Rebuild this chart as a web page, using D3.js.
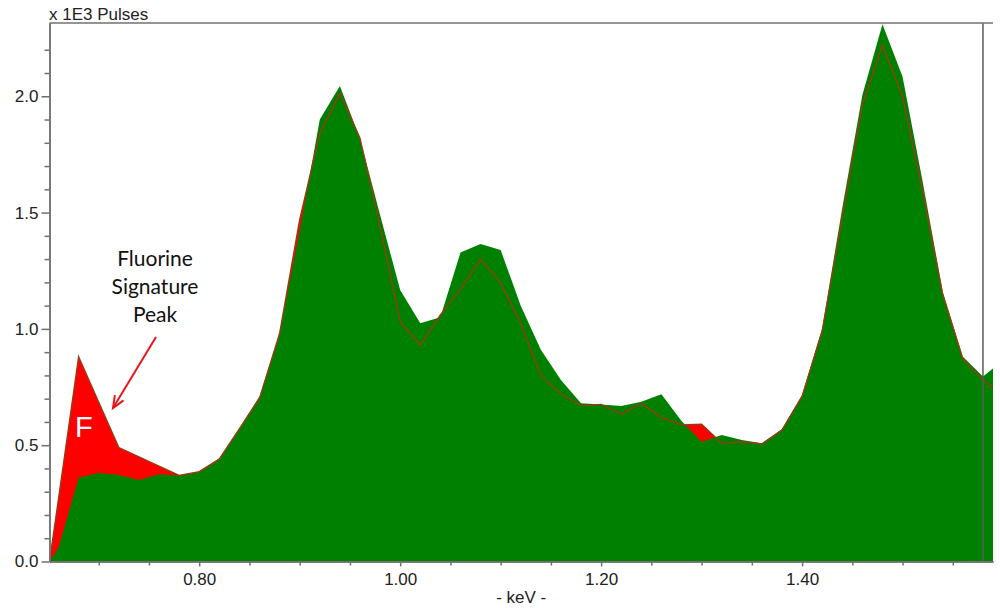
<!DOCTYPE html>
<html lang="en">
<head>
  <meta charset="UTF-8">
  <title>EDS spectrum - Fluorine peak</title>
  <script src="https://d3js.org/d3.v7.min.js"></script>
  <style>
    body {
      margin: 0;
      background: #fff;
      font-family: "Liberation Sans", Arial, sans-serif;
    }
    .axis path, .axis line {
      stroke: #707070;
      stroke-width: 1.5;
    }
    .axis text {
      font-family: "Liberation Sans", Arial, sans-serif;
      font-size: 17px;
      fill: #222;
    }
  </style>
</head>
<body>
  <div id="chart"></div>

  <script>
    // energy channels (keV)
    const energy = [0.651, 0.66, 0.68, 0.70, 0.72, 0.74, 0.76, 0.78, 0.80, 0.82, 0.84, 0.86, 0.88,
      0.90, 0.92, 0.94, 0.96, 0.98, 1.00, 1.02, 1.04, 1.06, 1.08, 1.10, 1.12, 1.14, 1.16,
      1.18, 1.20, 1.22, 1.24, 1.26, 1.28, 1.30, 1.32, 1.34, 1.36, 1.38, 1.40, 1.42, 1.44,
      1.46, 1.48, 1.50, 1.52, 1.54, 1.56, 1.58, 1.59];

    // green spectrum (x 1E3 pulses)
    const greenCounts = [0, 0.06, 0.36, 0.38, 0.372, 0.35, 0.375, 0.37, 0.386, 0.444, 0.574, 0.71, 0.98,
      1.42, 1.90, 2.044, 1.82, 1.49, 1.167, 1.024, 1.05, 1.328, 1.365, 1.339, 1.10, 0.91, 0.78,
      0.68, 0.675, 0.668, 0.687, 0.719, 0.604, 0.515, 0.544, 0.522, 0.508, 0.57, 0.716, 1.003, 1.52,
      2.006, 2.31, 2.084, 1.633, 1.16, 0.88, 0.795, 0.83];

    // red spectrum with the fluorine peak (x 1E3 pulses)
    const redCounts = [0, 0.27, 0.88, 0.685, 0.49, 0.45, 0.41, 0.37, 0.386, 0.44, 0.57, 0.70, 0.98,
      1.47, 1.84, 2.013, 1.82, 1.44, 1.03, 0.93, 1.06, 1.17, 1.30, 1.196, 1.024, 0.80, 0.72,
      0.67, 0.675, 0.634, 0.68, 0.62, 0.587, 0.59, 0.508, 0.515, 0.505, 0.565, 0.71, 0.99, 1.48,
      1.963, 2.22, 1.998, 1.59, 1.146, 0.87, 0.78, 0.746];

    const xMajorTicks = [0.80, 1.00, 1.20, 1.40];
    const xMinorTicks = [0.70, 0.75, 0.85, 0.90, 0.95, 1.05, 1.10, 1.15, 1.25, 1.30, 1.35, 1.45, 1.50, 1.55];
    const yMajorTicks = [0.0, 0.5, 1.0, 1.5, 2.0];
    const yMinorTicks = [0.1, 0.2, 0.3, 0.4, 0.6, 0.7, 0.8, 0.9, 1.1, 1.2, 1.3, 1.4, 1.6, 1.7, 1.8, 1.9, 2.1, 2.2];
    const markerEnergy = 1.58;
    const noteLines = ["Fluorine", "Signature", "Peak"];

    const width = 1000;
    const height = 608;

    const svg = d3.select("#chart")
      .append("svg")
      .attr("width", width)
      .attr("height", height);

    const x = d3.scaleLinear()
      .domain([0.651, 1.59])
      .range([49.5, 993]);

    const y = d3.scaleLinear()
      .domain([0, 2.315])
      .range([561.5, 23]);

    const area = d3.area()
      .x(d => x(d.e))
      .y0(y(0))
      .y1(d => y(d.v));

    const line = d3.line()
      .x(d => x(d.e))
      .y(d => y(d.v));

    const redData = energy.map((e, i) => ({e: e, v: redCounts[i]}));
    const greenData = energy.map((e, i) => ({e: e, v: greenCounts[i]}));

    // red underneath, green on top, then the red trace over everything
    svg.append("path")
      .datum(redData)
      .attr("fill", "#ff0000")
      .attr("d", area);

    svg.append("path")
      .datum(greenData)
      .attr("fill", "#008000")
      .attr("d", area);

    svg.append("path")
      .datum(redData)
      .attr("fill", "none")
      .attr("stroke", "#9a3a14")
      .attr("stroke-width", 1.4)
      .attr("d", line);

    // marker line near the right edge
    svg.append("line")
      .attr("x1", x(markerEnergy)).attr("x2", x(markerEnergy))
      .attr("y1", y.range()[1]).attr("y2", y(0))
      .attr("stroke", "#5a5a5a")
      .attr("stroke-width", 1.5);

    // top frame line
    svg.append("line")
      .attr("x1", x.range()[0]).attr("x2", x.range()[1])
      .attr("y1", y.range()[1]).attr("y2", y.range()[1])
      .attr("stroke", "#707070")
      .attr("stroke-width", 1.5);

    // x axis
    svg.append("g")
      .attr("class", "axis")
      .attr("transform", `translate(0,${y(0)})`)
      .call(d3.axisBottom(x).tickValues(xMinorTicks).tickSize(4).tickSizeOuter(0).tickFormat(""));

    svg.append("g")
      .attr("class", "axis")
      .attr("transform", `translate(0,${y(0)})`)
      .call(d3.axisBottom(x).tickValues(xMajorTicks).tickSize(5).tickSizeOuter(0).tickPadding(6).tickFormat(d3.format(".2f")));

    // y axis
    svg.append("g")
      .attr("class", "axis")
      .attr("transform", `translate(${x.range()[0]},0)`)
      .call(d3.axisLeft(y).tickValues(yMinorTicks).tickSize(5).tickSizeOuter(0).tickFormat(""));

    svg.append("g")
      .attr("class", "axis")
      .attr("transform", `translate(${x.range()[0]},0)`)
      .call(d3.axisLeft(y).tickValues(yMajorTicks).tickSize(8).tickSizeOuter(0).tickPadding(3).tickFormat(d3.format(".1f")));

    // axis titles
    svg.append("text")
      .attr("x", 49)
      .attr("y", 20)
      .attr("font-size", 17)
      .attr("fill", "#222")
      .text("x 1E3 Pulses");

    svg.append("text")
      .attr("x", (x.range()[0] + x.range()[1]) / 2)
      .attr("y", 603)
      .attr("text-anchor", "middle")
      .attr("font-size", 17)
      .attr("fill", "#222")
      .text("- keV -");

    // annotation
    svg.append("text")
      .attr("x", 75)
      .attr("y", 437)
      .attr("font-size", 29)
      .attr("fill", "#fff")
      .text("F");

    const note = svg.append("text")
      .attr("font-family", "Lato, 'Open Sans', sans-serif")
      .attr("font-size", 21)
      .attr("fill", "#111")
      .attr("text-anchor", "middle");

    note.selectAll("tspan")
      .data(noteLines)
      .join("tspan")
      .attr("x", 155)
      .attr("y", (d, i) => 266 + i * 28)
      .text(d => d);

    const arrowStart = [156, 337];
    const arrowEnd = [113, 408];
    const ang = Math.atan2(arrowEnd[1] - arrowStart[1], arrowEnd[0] - arrowStart[0]);
    const head = 13;

    svg.append("line")
      .attr("x1", arrowStart[0]).attr("y1", arrowStart[1])
      .attr("x2", arrowEnd[0]).attr("y2", arrowEnd[1])
      .attr("stroke", "#e8161c")
      .attr("stroke-width", 2);

    svg.append("path")
      .attr("d", `M${arrowEnd[0] - head * Math.cos(ang - 0.4)},${arrowEnd[1] - head * Math.sin(ang - 0.4)}
                  L${arrowEnd[0]},${arrowEnd[1]}
                  L${arrowEnd[0] - head * Math.cos(ang + 0.4)},${arrowEnd[1] - head * Math.sin(ang + 0.4)}`)
      .attr("fill", "none")
      .attr("stroke", "#e8161c")
      .attr("stroke-width", 2);
  </script>
</body>
</html>
